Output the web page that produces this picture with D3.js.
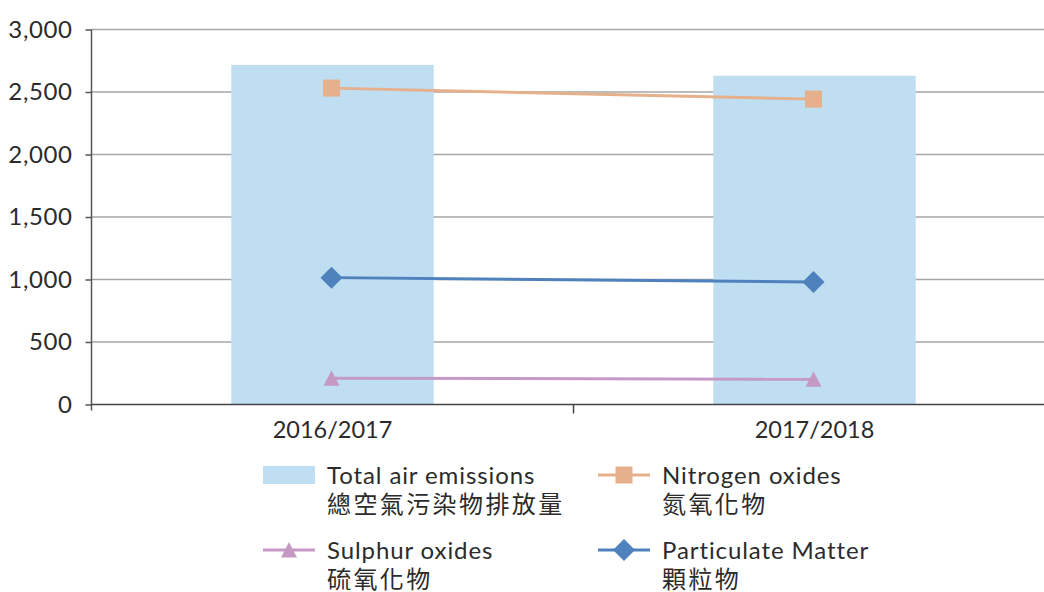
<!DOCTYPE html>
<html>
<head>
<meta charset="utf-8">
<script src="https://cdn.jsdelivr.net/npm/d3@7"></script>
<style>
  body { margin: 0; background: #fff; }
  svg { display: block; }
  text { font-family: Lato, "Noto Sans", sans-serif; fill: #2b2b2b; }
  .zh { font-family: "Noto Sans CJK TC", "Noto Sans CJK SC", sans-serif; }
</style>
</head>
<body>
<div id="chart"></div>
<script>
const years = ["2016/2017", "2017/2018"];
const totalEmissions = [2717, 2630];
const nitrogenOxides = [2531, 2443];
const particulateMatter = [1015, 980];
const sulphurOxides = [210, 202];
const yTicks = [0, 500, 1000, 1500, 2000, 2500, 3000];

const width = 1044, height = 592;
const plotLeft = 91.5, plotTop = 29.5, plotBottom = 404.5;

const svg = d3.select("#chart").append("svg")
  .attr("width", width)
  .attr("height", height);

const x = d3.scaleBand()
  .domain(years)
  .range([plotLeft, plotLeft + 964])
  .paddingInner(0)
  .paddingOuter(0);

const y = d3.scaleLinear()
  .domain([0, 3000])
  .range([plotBottom, plotTop]);

// gridlines
svg.append("g")
  .selectAll("line")
  .data(yTicks.filter(d => d > 0))
  .join("line")
  .attr("x1", plotLeft)
  .attr("x2", width)
  .attr("y1", d => y(d))
  .attr("y2", d => y(d))
  .attr("stroke", "#a6a6a6")
  .attr("stroke-width", 1.5);

// bars
const barW = x.bandwidth() * 0.42;
svg.append("g")
  .selectAll("rect")
  .data(years)
  .join("rect")
  .attr("x", (d, i) => x(d) + x.bandwidth() / 2 - barW / 2)
  .attr("y", (d, i) => y(totalEmissions[i]))
  .attr("width", barW)
  .attr("height", (d, i) => y(0) - y(totalEmissions[i]))
  .attr("fill", "#bfdef2");

// y axis
const yAxis = svg.append("g")
  .attr("transform", `translate(${plotLeft},0)`)
  .call(d3.axisLeft(y).tickValues(yTicks).tickSize(6).tickPadding(13).tickFormat(d3.format(",")));
yAxis.select(".domain").attr("stroke", "#555").attr("stroke-width", 1.5).attr("d", `M0,${plotTop}V${plotBottom + 6}`);
yAxis.selectAll(".tick line").attr("stroke", "#555").attr("stroke-width", 1.5);
yAxis.selectAll(".tick text")
  .attr("font-size", 24)
  .attr("letter-spacing", 0.6)
  .attr("font-family", "Lato, sans-serif")
  .attr("fill", "#2b2b2b");

// x axis
const xAxis = svg.append("g")
  .attr("transform", `translate(0,${plotBottom})`)
  .call(d3.axisBottom(x).tickSize(0).tickPadding(17));
xAxis.select(".domain").attr("stroke", "#444").attr("stroke-width", 1.5).attr("d", `M${plotLeft},0H${width}`);
xAxis.selectAll(".tick text")
  .attr("font-size", 23.5)
  .attr("font-family", "Lato, sans-serif")
  .attr("fill", "#2b2b2b");
svg.append("line")
  .attr("x1", x(years[1])).attr("x2", x(years[1]))
  .attr("y1", plotBottom).attr("y2", plotBottom + 9)
  .attr("stroke", "#444").attr("stroke-width", 1.5);

const cx = d => x(d) + x.bandwidth() / 2 - 1;

const series = [
  { name: "nitrogen", values: nitrogenOxides, color: "#e5b08b", shape: "square" },
  { name: "particulate", values: particulateMatter, color: "#4f81bd", shape: "diamond" },
  { name: "sulphur", values: sulphurOxides, color: "#c499c4", shape: "triangle" }
];

function marker(g, shape, color) {
  if (shape === "square") {
    g.append("rect").attr("x", -8.5).attr("y", -8.5).attr("width", 17).attr("height", 17).attr("fill", color);
  } else if (shape === "diamond") {
    g.append("path").attr("d", "M0,-11L11,0L0,11L-11,0Z").attr("fill", color);
  } else {
    g.append("path").attr("d", "M0,-8L8,7.5L-8,7.5Z").attr("fill", color);
  }
}

const line = d3.line().x((d, i) => cx(years[i])).y(d => y(d));

series.forEach(s => {
  svg.append("path")
    .datum(s.values)
    .attr("d", line)
    .attr("fill", "none")
    .attr("stroke", s.color)
    .attr("stroke-width", 3);
  s.values.forEach((v, i) => {
    const g = svg.append("g").attr("transform", `translate(${cx(years[i])},${y(v)})`);
    marker(g, s.shape, s.color);
  });
});

// legend
const legendItems = [
  { en: "Total air emissions", zh: "總空氣污染物排放量", kind: "bar", color: "#bfdef2", x: 263, y: 475 },
  { en: "Nitrogen oxides", zh: "氮氧化物", kind: "square", color: "#e5b08b", x: 598, y: 475 },
  { en: "Sulphur oxides", zh: "硫氧化物", kind: "triangle", color: "#c499c4", x: 263, y: 550 },
  { en: "Particulate Matter", zh: "顆粒物", kind: "diamond", color: "#4f81bd", x: 598, y: 550 }
];

const legend = svg.append("g");
legendItems.forEach(it => {
  const g = legend.append("g").attr("transform", `translate(${it.x},${it.y})`);
  if (it.kind === "bar") {
    g.append("rect").attr("x", 0).attr("y", -9).attr("width", 52).attr("height", 18).attr("fill", it.color);
  } else {
    g.append("line").attr("x1", 0).attr("x2", 52).attr("y1", 0).attr("y2", 0)
      .attr("stroke", it.color).attr("stroke-width", 3);
    const m = g.append("g").attr("transform", "translate(26,0)");
    marker(m, it.kind, it.color);
  }
  g.append("text")
    .attr("x", 64)
    .attr("y", 9)
    .attr("font-size", 24)
    .attr("letter-spacing", 0.9)
    .text(it.en);
  g.append("text")
    .attr("class", "zh")
    .attr("x", 64)
    .attr("y", 38)
    .attr("font-size", 24)
    .attr("letter-spacing", 2.4)
    .text(it.zh);
});
</script>
</body>
</html>
